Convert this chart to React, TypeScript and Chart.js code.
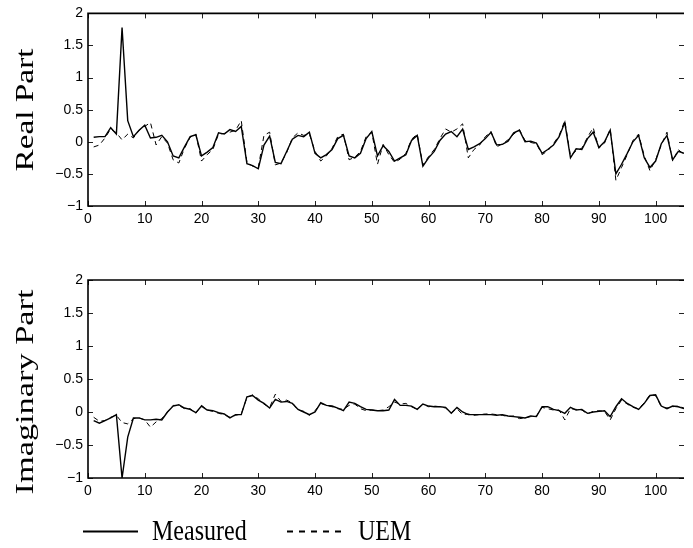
import React, { useEffect, useRef } from "react";
import { Chart, registerables } from "chart.js";

Chart.register(...registerables);

const xTicks = [0, 10, 20, 30, 40, 50, 60, 70, 80, 90, 100];
const yTicks = [-1, -0.5, 0, 0.5, 1, 1.5, 2];

const realMeasured = [
  0.07, 0.08, 0.08, 0.22, 0.12, 1.78, 0.33, 0.08, 0.18, 0.26,
  0.06, 0.07, 0.1, 0.0, -0.22, -0.25, -0.08, 0.08, 0.11, -0.22,
  -0.16, -0.09, 0.14, 0.12, 0.19, 0.16, 0.24, -0.34, -0.37, -0.42,
  -0.05, 0.09, -0.32, -0.34, -0.15, 0.04, 0.1, 0.08, 0.15, -0.18,
  -0.25, -0.2, -0.12, 0.05, 0.1, -0.22, -0.25, -0.18, 0.05, 0.16,
  -0.22, -0.06, -0.15, -0.3, -0.25, -0.2, 0.02, 0.1, -0.38, -0.25,
  -0.15, 0.02, 0.12, 0.16, 0.08, 0.2, -0.12, -0.08, -0.03, 0.05,
  0.15, -0.05, -0.04, 0.01, 0.14, 0.18, 0.0, 0.01, -0.02, -0.18,
  -0.12, -0.05, 0.08, 0.3, -0.25, -0.11, -0.12, 0.05, 0.15, -0.09,
  0.0, 0.18, -0.5, -0.35, -0.18, 0.0, 0.1, -0.25, -0.4, -0.3,
  -0.03, 0.1, -0.28, -0.15, -0.18,
];

const realUEM = [
  -0.08, -0.05, 0.06, 0.2, 0.14, 0.03, 0.12, 0.06, 0.18, 0.24,
  0.3, -0.05, 0.08, -0.02, -0.28, -0.33, -0.1, 0.07, 0.12, -0.3,
  -0.2, -0.12, 0.12, 0.13, 0.15, 0.18, 0.33, -0.32, -0.38, -0.4,
  0.1, 0.15, -0.36, -0.33, -0.17, 0.06, 0.14, 0.1, 0.12, -0.15,
  -0.3, -0.22, -0.1, 0.08, 0.12, -0.28, -0.24, -0.15, 0.08, 0.15,
  -0.35, -0.04, -0.2, -0.32, -0.27, -0.18, 0.04, 0.12, -0.36, -0.23,
  -0.12, 0.05, 0.2, 0.15, 0.2, 0.28, -0.25, -0.12, -0.05, 0.08,
  0.16, -0.08, -0.03, 0.03, 0.12, 0.19, 0.02, -0.01, -0.03, -0.2,
  -0.14, -0.03, 0.1, 0.33, -0.22, -0.14, -0.1, 0.07, 0.22, -0.1,
  -0.02, 0.2, -0.6, -0.4, -0.2, 0.02, 0.12, -0.22, -0.45, -0.28,
  -0.05, 0.15, -0.3, -0.12, -0.2,
];

const imagMeasured = [
  -0.13, -0.17, -0.13, -0.09, -0.04, -1.0, -0.38, -0.09, -0.09, -0.12,
  -0.12, -0.11, -0.12, 0.0, 0.09, 0.11, 0.06, 0.04, -0.01, 0.09,
  0.03, 0.02, -0.01, -0.03, -0.09, -0.04, -0.04, 0.23, 0.25, 0.18,
  0.13, 0.06, 0.19, 0.15, 0.16, 0.13, 0.04, 0.0, -0.04, 0.0,
  0.14, 0.1, 0.09, 0.06, 0.02, 0.15, 0.13, 0.08, 0.04, 0.03,
  0.02, 0.02, 0.03, 0.19, 0.1, 0.1, 0.09, 0.04, 0.12, 0.09,
  0.08, 0.08, 0.07, -0.02, 0.07, 0.0, -0.04, -0.04, -0.04, -0.04,
  -0.04, -0.05, -0.04, -0.06, -0.07, -0.08, -0.09, -0.06, -0.07, 0.08,
  0.08, 0.04, 0.02, -0.02, 0.07, 0.03, 0.04, -0.02, 0.0, 0.01,
  0.02, -0.07, 0.08, 0.2, 0.13, 0.08, 0.04, 0.13, 0.25, 0.26,
  0.09, 0.05, 0.09, 0.08, 0.05,
];

const imagUEM = [
  -0.08, -0.14, -0.13, -0.08, -0.05, -0.16, -0.18, -0.1, -0.09, -0.12,
  -0.23, -0.15, -0.1, 0.0, 0.1, 0.1, 0.05, 0.05, -0.02, 0.1,
  0.03, 0.01, -0.02, -0.04, -0.08, -0.05, -0.03, 0.22, 0.26, 0.2,
  0.12, 0.07, 0.27, 0.16, 0.18, 0.14, 0.03, 0.01, -0.05, 0.02,
  0.13, 0.1, 0.08, 0.05, 0.04, 0.1, 0.12, 0.05, 0.02, 0.03,
  0.02, 0.03, 0.08, 0.15, 0.12, 0.13, 0.08, 0.04, 0.12, 0.08,
  0.09, 0.08, 0.06, -0.01, 0.05, -0.04, -0.03, -0.05, -0.04, -0.03,
  -0.03, -0.04, -0.05, -0.07, -0.06, -0.1, -0.09, -0.07, -0.06, 0.07,
  0.05, 0.03, 0.03, -0.12, 0.05, 0.04, 0.03, -0.03, 0.01, 0.02,
  0.01, -0.12, 0.05, 0.18, 0.12, 0.07, 0.05, 0.14, 0.26, 0.25,
  0.08, 0.06, 0.08, 0.09, 0.06,
];

const legendLabels = ["Measured", "UEM"];

const toPoints = (arr: number[]) => arr.map((y, i) => ({ x: i + 1, y }));
const fmt = (v: number) => (v < 0 ? "\u2212" + String(-v) : String(v));

const framePlugin = {
  id: "frame",
  afterDraw(chart: any, _args: any, opts: any) {
    const { ctx, chartArea: a, scales } = chart;
    ctx.save();
    ctx.setLineDash([]);
    // ticks (inward, all four sides)
    ctx.strokeStyle = "#222";
    ctx.lineWidth = 1;
    const tl = 5;
    ctx.beginPath();
    scales.x.ticks.forEach((t: any) => {
      const px = Math.round(scales.x.getPixelForValue(t.value)) + 0.5;
      ctx.moveTo(px, a.bottom);
      ctx.lineTo(px, a.bottom - tl);
      ctx.moveTo(px, a.top);
      ctx.lineTo(px, a.top + tl);
    });
    scales.y.ticks.forEach((t: any) => {
      const py = Math.round(scales.y.getPixelForValue(t.value)) + 0.5;
      ctx.moveTo(a.left, py);
      ctx.lineTo(a.left + tl, py);
      ctx.moveTo(a.right, py);
      ctx.lineTo(a.right - tl, py);
    });
    ctx.stroke();
    // box: top, left, bottom (no right edge in the reference)
    ctx.strokeStyle = "#000";
    ctx.lineWidth = 1.6;
    ctx.beginPath();
    ctx.moveTo(a.right, a.top);
    ctx.lineTo(a.left, a.top);
    ctx.lineTo(a.left, a.bottom);
    ctx.lineTo(a.right, a.bottom);
    ctx.stroke();

    // y title
    ctx.save();
    ctx.translate(opts.titleX, opts.titleY);
    ctx.rotate(-Math.PI / 2);
    ctx.scale(opts.titleStretch, 1);
    ctx.fillStyle = "#000";
    ctx.font = '26px "Liberation Serif"';
    ctx.textAlign = "center";
    ctx.textBaseline = "alphabetic";
    ctx.fillText(opts.title, 0, 0);
    ctx.restore();

    if (opts.legend) {
      const ly = opts.legendY;
      ctx.strokeStyle = "#000";
      ctx.lineWidth = 2;
      ctx.beginPath();
      ctx.moveTo(83, ly);
      ctx.lineTo(138, ly);
      ctx.stroke();
      ctx.setLineDash([6, 6]);
      ctx.beginPath();
      ctx.moveTo(287, ly);
      ctx.lineTo(345, ly);
      ctx.stroke();
      ctx.setLineDash([]);
      ctx.fillStyle = "#000";
      ctx.font = '24px "Liberation Serif"';
      ctx.textAlign = "left";
      ctx.textBaseline = "alphabetic";
      const base = opts.legendY + 8.5;
      ctx.save();
      ctx.translate(152, base);
      ctx.scale(1, 1.25);
      ctx.fillText(legendLabels[0], 0, 0);
      ctx.restore();
      ctx.save();
      ctx.translate(358, base);
      ctx.scale(1, 1.25);
      ctx.fillText(legendLabels[1], 0, 0);
      ctx.restore();
    }
    ctx.restore();
  },
};

function makeConfig(
  measured: number[],
  uem: number[],
  xAxisHeight: number,
  padTop: number,
  frame: any
): any {
  return {
    type: "line",
    data: {
      datasets: [
        {
          label: legendLabels[0],
          data: toPoints(measured),
          borderColor: "#000",
          borderWidth: 1.4,
          pointRadius: 0,
          tension: 0,
          fill: false,
        },
        {
          label: legendLabels[1],
          data: toPoints(uem),
          borderColor: "#000",
          borderWidth: 1,
          borderDash: [5, 4],
          pointRadius: 0,
          tension: 0,
          fill: false,
        },
      ],
    },
    options: {
      responsive: false,
      animation: false,
      maintainAspectRatio: false,
      layout: { padding: { left: 0, right: 9, top: padTop, bottom: 0 } },
      plugins: {
        legend: { display: false },
        tooltip: { enabled: false },
        frame,
      },
      scales: {
        x: {
          type: "linear",
          min: 0,
          max: 105,
          grid: { display: false, drawTicks: false },
          border: { display: false },
          afterBuildTicks: (s: any) => {
            s.ticks = xTicks.map((v) => ({ value: v }));
          },
          afterFit: (s: any) => {
            s.height = xAxisHeight;
          },
          ticks: {
            autoSkip: false,
            maxRotation: 0,
            padding: 5,
            color: "#000",
            font: { family: '"Liberation Sans"', size: 14 },
            callback: (v: number) => fmt(v),
          },
        },
        y: {
          type: "linear",
          min: -1,
          max: 2,
          grid: { display: false, drawTicks: false },
          border: { display: false },
          afterBuildTicks: (s: any) => {
            s.ticks = yTicks.map((v) => ({ value: v }));
          },
          afterFit: (s: any) => {
            s.width = 88;
          },
          ticks: {
            autoSkip: false,
            padding: 5,
            color: "#000",
            font: { family: '"Liberation Sans"', size: 14 },
            callback: (v: number) => fmt(v),
          },
        },
      },
    },
    plugins: [framePlugin],
  };
}

export default function App() {
  const topRef = useRef<HTMLCanvasElement>(null);
  const botRef = useRef<HTMLCanvasElement>(null);

  useEffect(() => {
    const c1 = new Chart(
      topRef.current as HTMLCanvasElement,
      makeConfig(realMeasured, realUEM, 34, 7, {
        title: "Real Part",
        titleX: 33,
        titleY: 110,
        titleStretch: 1.28,
        legend: false,
      })
    );
    const c2 = new Chart(
      botRef.current as HTMLCanvasElement,
      makeConfig(imagMeasured, imagUEM, 70, 40, {
        title: "Imaginary Part",
        titleX: 33,
        titleY: 152,
        titleStretch: 1.32,
        legend: true,
        legendY: 291.5,
      })
    );
    return () => {
      c1.destroy();
      c2.destroy();
    };
  }, []);

  return (
    <div style={{ position: "absolute", left: 0, top: 0, width: 693, height: 548, background: "#fff" }}>
      <canvas ref={topRef} width={693} height={240} style={{ position: "absolute", left: 0, top: 0 }} />
      <canvas ref={botRef} width={693} height={308} style={{ position: "absolute", left: 0, top: 240 }} />
    </div>
  );
}
